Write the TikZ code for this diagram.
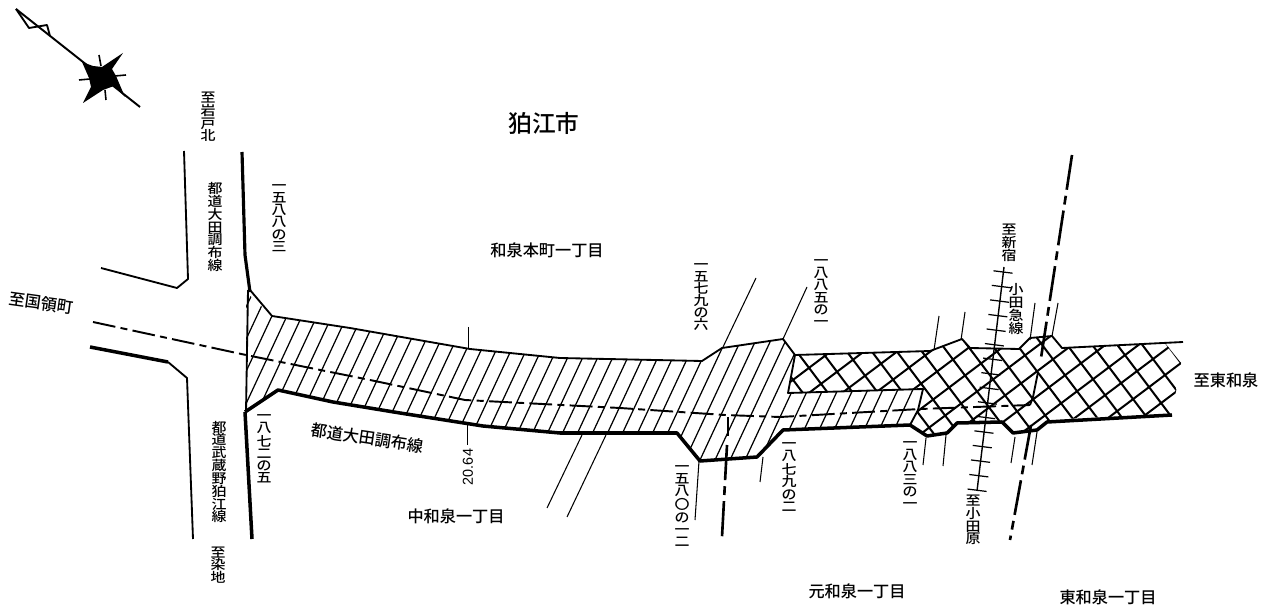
\documentclass[tikz,border=0pt]{standalone}
\usepackage{fontspec}
\setmainfont{Liberation Sans}
\newfontfamily\jpf{Noto Sans CJK JP Medium}
\tikzset{
 x=0.02cm,y=-0.02cm,
 hl/.style={font=\jpf\fontsize{9.2}{11}\selectfont,inner sep=0pt},
 big/.style={font=\jpf\fontsize{13.5}{16}\selectfont,inner sep=0pt},
 vl/.style={font=\jpf\fontsize{7.6}{7.3}\selectfont,align=center,inner sep=0pt,xscale=1.12,transform shape},
 vs/.style={font=\jpf\fontsize{7.6}{6.9}\selectfont,align=center,inner sep=0pt,xscale=1.12,transform shape},
 thinl/.style={line width=0.6pt},
 faint/.style={line width=0.35pt},
 roadl/.style={line width=1.05pt,line join=round},
 thick1/.style={line width=2pt,line join=round},
 hatchl/.style={line width=0.7pt},
 crossl/.style={line width=1.15pt},
 centre/.style={line width=1.1pt,dash pattern=on 13pt off 3pt on 4pt off 3pt},
 axisl/.style={line width=1.5pt,dash pattern=on 20pt off 3.5pt on 5pt off 3.5pt},
}
\begin{document}
\begin{tikzpicture}
\useasboundingbox (0,0) rectangle (1270,607);
\fill[white] (0,0) rectangle (1270,607);
% compass
\draw[roadl] (16,9) -- (29,28) -- (47,25) -- (50,36);
\draw[line width=1.1pt] (16,9) -- (140,107);
\fill (123,53) -- (112,69) -- (116,76) -- (125,97) -- (114,86) -- (103,90) -- (83,103) -- (91,87) -- (89,78) -- (82,62) -- (93,66) -- (102,67) -- cycle;
\draw[line width=0.9pt] (99,55)--(101,66) (79,80)--(90,79) (105,90)--(106,100) (115,76)--(126,75);
% single hatch
\begin{scope}
\clip (246,292)--(272,316)--(350,328)--(470,349)--(560,358)--(702,361)--(722,348)--(783,339)--(795,355)--(788,393)--(923,389)--(918,410)--(910,425)--(783,430)--(757,457)--(700,461)--(677,433)--(560,432)--(483,426)--(400,413)--(333,402)--(278,390)--(246,412)--cycle;
\begin{scope}[shift={(608,432)},rotate=65]
\foreach \k in {-30,...,30}{\draw[hatchl] (-300,\k*13.6) -- (300,\k*13.6);}
\end{scope}
\end{scope}
% cross hatch
\begin{scope}
\clip (795,356)--(930,351)--(962,339)--(970,347)--(1019,349)--(1030,338)--(1052,336)--(1062,348)--(1165,343)--(1181,363)--(1176,391)--(1171,415)--(1077,418)--(1047,422)--(1037,430)--(1013,433)--(1002,422)--(957,423)--(947,433)--(927,436)--(910,425)--(918,410)--(923,389)--(788,393)--cycle;
\begin{scope}[shift={(1181,363)},rotate=37]
\foreach \k in {-25,...,25}{
 \draw[crossl] (-600,\k*20) -- (100,\k*20);
 }
\foreach \k in {-30,...,3}{
 \draw[crossl] (\k*20,-300) -- (\k*20,300);
 }
\end{scope}
\end{scope}
% outlines
\draw[roadl] (250,290)--(272,316)--(350,328)--(470,349)--(560,358)--(702,361)--(722,348)--(783,339)--(795,355)--(930,351)--(962,339)--(970,348)--(1019,349)--(1030,338)--(1052,336)--(1062,348)--(1183,342);
\draw[roadl] (795,355)--(788,393)--(923,389)--(918,410)--(910,425);
\draw[roadl] (248,290)--(246,412);
\draw[thick1] (245,412)--(278,390)--(333,402)--(400,413)--(483,426)--(560,433)--(677,433)--(700,461)--(757,457)--(783,430)--(910,425)--(927,436)--(947,433)--(957,423)--(1002,422)--(1013,433)--(1037,430)--(1047,422)--(1172,415);
% roads
\draw[line width=1.8pt] (242,152)--(245,255)--(250,292);
\draw[line width=2pt] (245,412)--(252,539);
\draw[roadl] (184,151)--(188,279)--(177,288)--(101,268);
\draw[line width=2pt] (90,347)--(168,362);
\draw[roadl] (168,362)--(187,378)--(193,539);
% centre line
\draw[centre] (93,322)--(246,355)--(370,380)--(465,400)--(620,408)--(725,415)--(780,417)--(920,409)--(1030,405);
\draw[roadl] (1030,405)--(1033,397)--(1038,372);
\draw[axisl] (1072,155)--(1041,358);
\draw[axisl] (1031,425)--(1010,540);
\draw[line width=1.2pt] (728,417)--(728,436);
\draw[axisl] (727,445)--(722,537);
% leaders
\draw[faint] (468,327)--(468,349) (467,425)--(467,445);
\draw[thinl] (756,278)--(723,347) (807,287)--(783,339);
\draw[thinl] (582,435)--(547,508) (606,435)--(567,517);
\draw[thinl] (699,461)--(695,520) (763,457)--(760,482);
\draw[thinl] (939,316)--(934,350) (965,312)--(961,340);
\draw[thinl] (926,438)--(923,465) (946,435)--(943,466);
\draw[thinl] (1015,437)--(1011,463) (1037,432)--(1032,465);
\draw[thinl] (1035,303)--(1030,340) (1058,303)--(1052,336);
% railway
\draw[line width=0.8pt] (1004,267)--(977,491);
\foreach \i in {0,...,15}{
 \draw[line width=0.7pt] ({1003-1.73*\i-9.5},{272+14.55*\i-1.2})--({1003-1.73*\i+9.5},{272+14.55*\i+1.2});
}
% labels
\node[big] (t1) at (544,123) {狛江市};
\node[hl] (t2) at (547,250) {和泉本町一丁目};
\node[hl] (t3) at (456,516) {中和泉一丁目};
\node[hl] (t4) at (857,591) {元和泉一丁目};
\node[hl] (t5) at (1108,597) {東和泉一丁目};
\node[hl] (t6) at (1226,380) {至東和泉};
\node[hl,rotate=-8] (t7) at (41,303) {至国領町};
\node[hl,rotate=-8.5] (t8) at (367,438) {都道大田調布線};
\node[vl] (v1) at (208,117) {至\\岩\\戸\\北};
\node[vl] (v2) at (215,227) {都\\道\\大\\田\\調\\布\\線};
\node[vs] (v3) at (279,218) {一\\五\\八\\八\\の\\三};
\node[vl] (v4) at (219,472) {都\\道\\武\\蔵\\野\\狛\\江\\線};
\node[vl] (v5) at (218,565) {至\\染\\地};
\node[vs] (v6) at (264,449) {一\\八\\七\\二\\の\\五};
\node[vs] (v7) at (701,297) {一\\五\\七\\九\\の\\六};
\node[vs] (v8) at (821,293) {一\\八\\八\\五\\の\\一};
\node[vs] (v9) at (682,506) {一\\五\\八\\〇\\の\\一\\二};
\node[vs] (v10) at (789,477) {一\\八\\七\\九\\の\\二};
\node[vs] (v11) at (910,475) {一\\八\\八\\三\\の\\一};
\node[vl] (v12) at (1009,243) {至\\新\\宿};
\node[vl] (v13) at (1016,309) {小\\田\\急\\線};
\node[vl] (v14) at (973,520) {至\\小\\田\\原};
\node[font=\fontsize{8.2}{9}\selectfont,rotate=90,inner sep=0pt] (n1) at (468,467) {20.64};
\end{tikzpicture}
\end{document}
